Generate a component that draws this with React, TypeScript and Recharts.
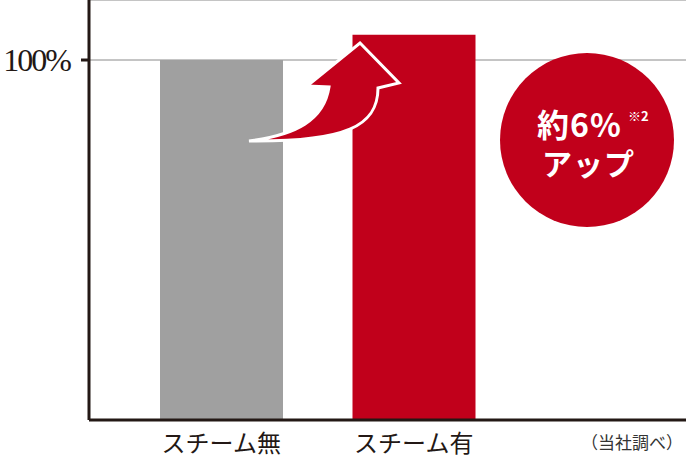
import { BarChart, Bar, XAxis, YAxis, CartesianGrid, Cell } from 'recharts';

const categories = ['スチーム無', 'スチーム有'];
const values = [100, 107];
const yTicks = [100];
const yTickLabels = ['100%'];

const COLORS = ['#A0A0A0', '#C1001B'];
const INK = '#231815';

const data = categories.map((name, i) => ({ name, value: values[i] }));

const YTick = (props: any) => {
    const { x, y, payload } = props;
    const idx = yTicks.indexOf(payload.value);
    return (
        <text
            x={x}
            y={y}
            dy="0.34em"
            textAnchor="end"
            fill={INK}
            fontFamily="'Liberation Serif', 'DejaVu Serif', serif"
            fontSize={32}
            letterSpacing={-2}
        >
            {yTickLabels[idx] ?? payload.value}
        </text>
    );
};

const XTick = (props: any) => {
    const { x, payload } = props;
    return (
        <text
            x={x}
            y={443}
            dy="0.36em"
            textAnchor="middle"
            fill={INK}
            fontFamily="'Noto Sans CJK JP', sans-serif"
            fontSize={24}
        >
            {payload.value}
        </text>
    );
};

export default function App() {
    return (
        <div style={{ position: 'absolute', left: 0, top: 0, width: 686, height: 459, background: '#fff' }}>
            <BarChart width={686} height={459} data={data} margin={{ top: 0, right: 0, left: 0, bottom: 0 }}>
                <CartesianGrid vertical={false} stroke="#8a8a8a" strokeWidth={1} />
                <XAxis
                    dataKey="name"
                    height={39}
                    padding={{ left: 36, right: 176 }}
                    axisLine={{ stroke: INK, strokeWidth: 3 }}
                    tickLine={false}
                    tick={<XTick />}
                    interval={0}
                />
                <YAxis
                    width={89}
                    domain={[0, 116.67]}
                    ticks={yTicks}
                    axisLine={{ stroke: INK, strokeWidth: 3 }}
                    tickLine={{ stroke: INK, strokeWidth: 3 }}
                    tickSize={8}
                    tickMargin={11}
                    tick={<YTick />}
                />
                <Bar dataKey="value" barSize={123} isAnimationActive={false}>
                    {data.map((d, i) => (
                        <Cell key={d.name} fill={COLORS[i % COLORS.length]} />
                    ))}
                </Bar>
            </BarChart>
            <svg
                width={686}
                height={459}
                style={{ position: 'absolute', left: 0, top: 0, pointerEvents: 'none' }}
            >
                {/* curved arrow */}
                <path
                    d="M249,141 C296,135 324,120 329,87 L307,86 L360,43 L399,83 L378,88 C378,126 346,142 249,141 Z"
                    fill="#C1001B"
                    stroke="#fff"
                    strokeWidth={3}
                    strokeLinejoin="miter"
                />
                {/* badge */}
                <circle cx={587} cy={140} r={87} fill="#C1001B" />
                <text
                    x={537}
                    y={137}
                    fill="#fff"
                    fontFamily="'Noto Sans CJK JP', sans-serif"
                    fontWeight={700}
                    fontSize={32}
                    letterSpacing={1}
                >
                    約6%
                </text>
                <text
                    x={628}
                    y={121}
                    fill="#fff"
                    fontFamily="'Noto Sans CJK JP', sans-serif"
                    fontWeight={700}
                    fontSize={13}
                >
                    ※2
                </text>
                <text
                    x={542}
                    y={175}
                    fill="#fff"
                    fontFamily="'Noto Sans CJK JP', sans-serif"
                    fontWeight={700}
                    fontSize={30}
                    letterSpacing={1}
                >
                    アップ
                </text>
                <text
                    x={683}
                    y={443}
                    dy="0.36em"
                    textAnchor="end"
                    fill="#333"
                    fontFamily="'Noto Sans CJK JP', sans-serif"
                    fontSize={17}
                >
                    （当社調べ）
                </text>
            </svg>
        </div>
    );
}
